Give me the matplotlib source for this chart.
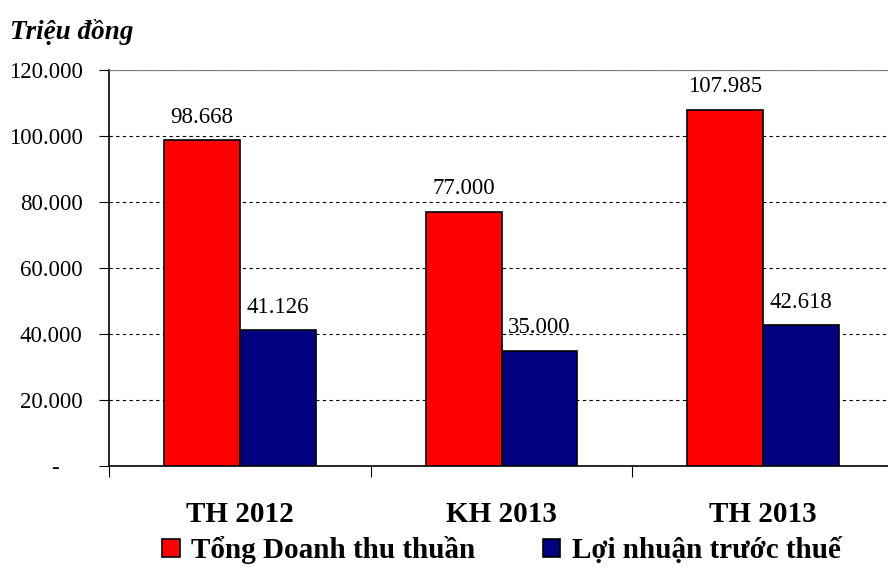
import matplotlib
matplotlib.use("Agg")
import matplotlib.pyplot as plt
from matplotlib.ticker import FuncFormatter
import numpy as np

plt.rcParams["font.family"] = ["Liberation Serif", "DejaVu Serif"]

categories = ["TH 2012", "KH 2013", "TH 2013"]
revenue = [98668, 77000, 107985]
profit = [41126, 35000, 42618]
series_names = ["Tổng Doanh thu thuần", "Lợi nhuận trước thuế"]
colors = ["#ff0000", "#000080"]


def fmt(v, _=None):
    if v == 0:
        return "-    "
    return f"{v:,.0f}".replace(",", ".")


fig = plt.figure(figsize=(8.88, 5.73), dpi=100)
ax = fig.add_axes([109 / 888, 1 - 466 / 573, 785 / 888, 396 / 573])

x = np.arange(len(categories)) + 0.5
w = 0.29
b1 = ax.bar(x - w / 2, revenue, w, color=colors[0], edgecolor="black", lw=1.2,
            label=series_names[0], zorder=3)
b2 = ax.bar(x + w / 2, profit, w, color=colors[1], edgecolor="black", lw=1.2,
            label=series_names[1], zorder=3)
for bars, vals in ((b1, revenue), (b2, profit)):
    for r, v in zip(bars, vals):
        ax.text(r.get_x() + r.get_width() / 2, v + 3800, fmt(v), ha="center",
                va="bottom", fontsize=16.5)

ax.set_xlim(0, 3)
ax.set_ylim(0, 120000)
ax.set_yticks(np.arange(0, 120001, 20000))
ax.yaxis.set_major_formatter(FuncFormatter(fmt))
ax.yaxis.grid(True, ls=(0, (3, 3)), color="black", lw=0.8, zorder=0)
ax.set_xticks([0, 1, 2, 3])
ax.set_xticklabels([])
ax.set_xticks(x, minor=True)
ax.set_xticklabels(categories, minor=True, fontsize=21, fontweight="bold")
ax.tick_params(axis="x", which="minor", length=0, pad=25)
ax.tick_params(axis="x", which="major", length=8, direction="out")
ax.tick_params(axis="y", length=7, direction="out", labelsize=16.5, pad=12)
for s in ("left", "bottom"):
    ax.spines[s].set_color("black")
    ax.spines[s].set_linewidth(1.2)
ax.spines["top"].set_color("#808080")
ax.spines["right"].set_color("#808080")

fig.text(10 / 888, 1 - 32 / 573, "Triệu đồng", fontsize=19.5, fontweight="bold",
         fontstyle="italic", va="center")

ax.legend(loc="center", bbox_to_anchor=(0.5, -0.213), ncol=2, frameon=False,
          prop={"size": 21, "weight": "bold"}, handlelength=0.6, handleheight=0.6,
          handletextpad=0.4, columnspacing=2.3, borderaxespad=0)

fig.savefig("out.png", dpi=100)
